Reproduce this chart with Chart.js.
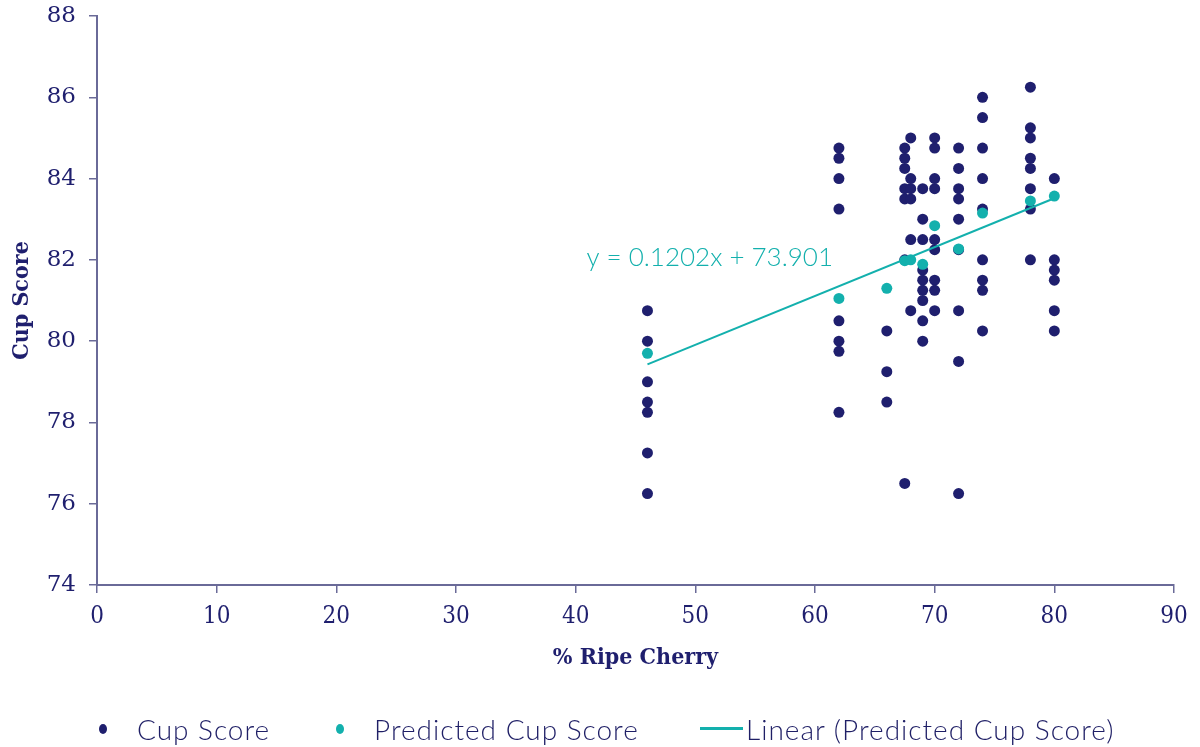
<!DOCTYPE html>
<html>
<head>
<meta charset="utf-8">
<script src="https://cdn.jsdelivr.net/npm/chart.js@4/dist/chart.umd.min.js"></script>
<style>
  html, body { margin: 0; padding: 0; background: #ffffff; }
  #wrap { position: relative; width: 1200px; height: 747px; }
  #chart { position: absolute; left: 0; top: 0; }
  #legend { position: absolute; left: 0; top: 711px; width: 1200px; height: 36px;
            font-family: "Lato", "Open Sans", sans-serif; font-weight: 300; font-size: 28px;
            letter-spacing: 1px; color: #1f1f66; }
  .item { position: absolute; top: 0; height: 36px; line-height: 36px; white-space: nowrap; }
  .dot { position: absolute; width: 8px; height: 10px; border-radius: 50%; top: 13px; }
  .line { position: absolute; height: 3px; top: 16px; }
</style>
</head>
<body>
<div id="wrap">
  <canvas id="chart" width="1200" height="747"></canvas>
  <div id="legend"></div>
</div>
<script>
// Ripeness (% ripe cherry) of each lot and its cup score
const cupX = [
  46, 46, 46, 46, 46, 46, 46,
  62, 62, 62, 62, 62, 62, 62, 62,
  66, 66, 66,
  67.5, 67.5, 67.5, 67.5, 67.5, 67.5, 67.5,
  68, 68, 68, 68, 68, 68,
  69, 69, 69, 69, 69, 69, 69, 69, 69,
  70, 70, 70, 70, 70, 70, 70, 70, 70,
  72, 72, 72, 72, 72, 72, 72, 72, 72,
  74, 74, 74, 74, 74, 74, 74, 74, 74,
  78, 78, 78, 78, 78, 78, 78, 78,
  80, 80, 80, 80, 80, 80
];
const cupY = [
  80.75, 80.0, 79.0, 78.5, 78.25, 77.25, 76.25,
  84.75, 84.5, 84.0, 83.25, 80.5, 80.0, 79.75, 78.25,
  80.25, 79.25, 78.5,
  84.75, 84.5, 84.25, 83.75, 83.5, 82.0, 76.5,
  85.0, 84.0, 83.75, 83.5, 82.5, 80.75,
  83.75, 83.0, 82.5, 81.75, 81.5, 81.25, 81.0, 80.5, 80.0,
  85.0, 84.75, 84.0, 83.75, 82.5, 82.25, 81.5, 81.25, 80.75,
  84.75, 84.25, 83.75, 83.5, 83.0, 82.25, 80.75, 79.5, 76.25,
  86.0, 85.5, 84.75, 84.0, 83.25, 82.0, 81.5, 81.25, 80.25,
  86.25, 85.25, 85.0, 84.5, 84.25, 83.75, 83.25, 82.0,
  84.0, 82.0, 81.75, 81.5, 80.75, 80.25
];

// Predicted cup score for each ripeness level
const predX = [46, 62, 66, 67.5, 68, 69, 70, 72, 74, 78, 80];
const predY = [79.70, 81.05, 81.30, 81.98, 82.0, 81.89, 82.84, 82.27, 83.15, 83.45, 83.57];

// Linear fit of the predicted scores
const trendSlope = 0.1202;
const trendIntercept = 73.901;
const trendRange = [46, 80];

const xTicks = [0, 10, 20, 30, 40, 50, 60, 70, 80, 90];
const yTicks = [74, 76, 78, 80, 82, 84, 86, 88];

const NAVY = '#1f1f6e';
const TEAL = '#13b0ad';
const AXIS = '#6a6a98';

const toPoints = (xs, ys) => xs.map((x, i) => ({ x: x, y: ys[i] }));
const trendPoints = trendRange.map(x => ({ x: x, y: trendSlope * x + trendIntercept }));

const trendLabel = {
  id: 'trendLabel',
  afterDatasetsDraw(chart) {
    const { ctx, scales } = chart;
    const text = 'y = ' + trendSlope + 'x + ' + trendIntercept;
    ctx.save();
    ctx.font = '300 26px Lato, "Open Sans", sans-serif';
    ctx.fillStyle = TEAL;
    ctx.textAlign = 'left';
    ctx.textBaseline = 'middle';
    ctx.fillText(text, scales.x.getPixelForValue(40.9), scales.y.getPixelForValue(82.05));
    ctx.restore();
  }
};

const chart = new Chart(document.getElementById('chart'), {
  type: 'scatter',
  data: {
    datasets: [
      {
        label: 'Cup Score',
        data: toPoints(cupX, cupY),
        backgroundColor: NAVY,
        borderColor: NAVY,
        pointRadius: 5.5,
        pointBorderWidth: 0,
        order: 3
      },
      {
        label: 'Predicted Cup Score',
        data: toPoints(predX, predY),
        backgroundColor: TEAL,
        borderColor: TEAL,
        pointRadius: 5.5,
        pointBorderWidth: 0,
        order: 2
      },
      {
        label: 'Linear (Predicted Cup Score)',
        data: trendPoints,
        showLine: true,
        borderColor: TEAL,
        backgroundColor: TEAL,
        borderWidth: 2,
        pointRadius: 0,
        order: 1
      }
    ]
  },
  options: {
    responsive: false,
    animation: false,
    layout: { padding: { left: 0, right: 26, top: 16, bottom: 75 } },
    plugins: {
      legend: { display: false },
      tooltip: { enabled: false }
    },
    scales: {
      x: {
        type: 'linear',
        min: xTicks[0],
        max: xTicks[xTicks.length - 1],
        afterBuildTicks(scale) { scale.ticks = xTicks.map(v => ({ value: v })); },
        afterFit(scale) {
          scale.height = 87;
          scale.paddingLeft = 0;
          scale.paddingRight = 0;
        },
        grid: { display: true, drawOnChartArea: false, drawTicks: true, tickLength: 8, color: AXIS, lineWidth: 1.5 },
        border: { display: true, color: AXIS, width: 2 },
        ticks: {
          color: NAVY,
          padding: 9,
          font: { family: '"DejaVu Serif Condensed", "Liberation Serif", serif', size: 24 }
        },
        title: {
          display: true,
          text: '% Ripe Cherry',
          color: NAVY,
          padding: 0,
          font: { family: '"DejaVu Serif Condensed", "Liberation Serif", serif', size: 23, weight: 'bold' }
        }
      },
      y: {
        type: 'linear',
        min: yTicks[0],
        max: yTicks[yTicks.length - 1],
        afterBuildTicks(scale) { scale.ticks = yTicks.map(v => ({ value: v })); },
        afterFit(scale) {
          scale.width = 97;
          scale.paddingTop = 0;
          scale.paddingBottom = 0;
        },
        grid: { display: true, drawOnChartArea: false, drawTicks: true, tickLength: 8, color: AXIS, lineWidth: 1.5 },
        border: { display: true, color: AXIS, width: 2 },
        ticks: {
          color: NAVY,
          padding: 13,
          font: { family: '"DejaVu Serif", "Liberation Serif", serif', size: 23 }
        },
        title: {
          display: true,
          text: 'Cup Score',
          color: NAVY,
          padding: { top: 8, bottom: 0 },
          font: { family: '"DejaVu Serif Condensed", "Liberation Serif", serif', size: 23, weight: 'bold' }
        }
      }
    }
  },
  plugins: [trendLabel]
});

// Legend row beneath the plot, built from the dataset definitions
const legendLayout = [
  { marker: 'dot', markerX: 99, textX: 137 },
  { marker: 'dot', markerX: 336, textX: 374 },
  { marker: 'line', markerX: 700, markerW: 43, textX: 746 }
];
const legendEl = document.getElementById('legend');
chart.data.datasets.forEach((ds, i) => {
  const spec = legendLayout[i];
  const mark = document.createElement('div');
  mark.className = spec.marker;
  mark.style.left = spec.markerX + 'px';
  mark.style.background = ds.borderColor;
  if (spec.markerW) mark.style.width = spec.markerW + 'px';
  legendEl.appendChild(mark);
  const label = document.createElement('div');
  label.className = 'item';
  label.style.left = spec.textX + 'px';
  label.textContent = ds.label;
  legendEl.appendChild(label);
});
</script>
</body>
</html>
